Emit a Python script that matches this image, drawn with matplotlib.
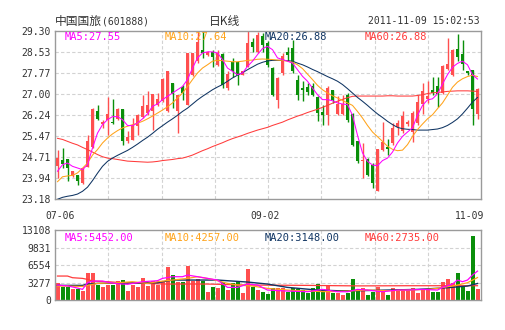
import matplotlib.pyplot as plt
import numpy as np

# ---- data (601888, daily, 2011-07-06 .. 2011-11-09) ----
opens = [24.37, 24.59, 24.64, 24.01, 24.07, 23.76, 24.33, 25.06, 26.37, 25.91,
         26.06, 25.98, 26.10, 26.45, 25.28, 25.33, 25.83, 26.15, 26.31, 26.40,
         26.59, 26.74, 26.37, 27.41, 26.37, 27.27, 26.62, 27.71, 28.20, 28.61,
         28.43, 28.55, 28.07, 28.46, 27.21, 28.18, 28.16, 27.70, 28.00, 28.90,
         28.55, 29.12, 28.86, 27.95, 26.80, 27.77, 28.52, 28.68, 27.53, 27.22,
         27.25, 27.28, 26.90, 26.35, 26.23, 27.16, 26.28, 26.28, 26.98, 26.28,
         25.28, 24.55, 24.64, 24.42, 23.48, 24.96, 25.06, 25.21, 25.80, 25.65,
         25.91, 25.63, 25.94, 26.64, 26.84, 27.16, 27.28, 27.04, 27.93, 27.71,
         28.66, 28.46, 27.83, 27.89, 26.28]
highs = [24.98, 25.04, 24.64, 24.21, 24.07, 24.36, 25.50, 26.49, 26.59, 26.07,
         26.88, 26.82, 26.49, 26.45, 25.65, 26.13, 26.28, 26.98, 27.10, 27.01,
         27.04, 27.59, 27.86, 27.41, 26.98, 27.32, 28.50, 28.50, 29.29, 29.30,
         28.58, 28.62, 28.62, 28.50, 27.83, 28.30, 28.20, 27.86, 29.30, 29.05,
         29.25, 29.23, 28.92, 28.00, 27.62, 28.50, 28.70, 28.98, 27.71, 27.47,
         27.41, 27.41, 26.92, 26.62, 27.28, 27.16, 26.92, 26.98, 27.04, 26.30,
         25.30, 25.22, 24.67, 24.48, 25.00, 25.98, 25.35, 25.95, 26.07, 26.37,
         26.05, 26.37, 26.98, 27.41, 27.47, 27.61, 27.61, 28.05, 29.05, 28.65,
         29.19, 28.98, 27.86, 27.89, 27.22]
lows = [23.95, 24.31, 23.82, 23.98, 23.68, 23.74, 24.33, 25.04, 26.07, 25.77,
        25.52, 25.91, 26.07, 25.16, 25.22, 25.32, 25.50, 26.13, 26.25, 25.71,
        26.56, 26.71, 26.35, 26.49, 25.58, 26.80, 26.60, 27.65, 28.13, 28.30,
        28.40, 27.98, 28.01, 27.22, 27.16, 27.64, 27.33, 27.68, 27.98, 28.55,
        28.50, 28.55, 28.00, 26.95, 26.49, 27.71, 28.20, 27.77, 26.80, 26.74,
        26.98, 26.92, 26.01, 25.89, 25.89, 26.68, 26.25, 26.25, 26.00, 25.10,
        24.50, 23.95, 24.01, 23.57, 23.46, 24.92, 24.77, 25.16, 25.50, 25.58,
        25.85, 25.27, 25.89, 26.28, 26.68, 26.98, 26.52, 27.00, 27.89, 27.65,
        28.20, 27.89, 27.71, 25.86, 26.10]
closes = [24.67, 24.45, 24.31, 24.19, 23.85, 24.31, 25.28, 26.47, 26.10, 25.98,
          26.28, 25.95, 26.46, 25.31, 25.44, 25.89, 26.25, 26.56, 26.59, 27.01,
          26.82, 27.55, 27.83, 27.01, 26.98, 27.03, 28.49, 28.49, 28.90, 28.49,
          28.55, 28.34, 28.50, 27.35, 27.73, 27.86, 27.70, 27.84, 28.85, 28.73,
          29.15, 28.79, 28.07, 26.98, 27.59, 28.38, 28.41, 27.83, 26.98, 27.16,
          27.08, 26.98, 26.31, 26.23, 27.22, 26.80, 26.64, 26.64, 26.07, 25.16,
          24.55, 24.61, 24.07, 23.77, 24.99, 25.27, 25.01, 25.76, 25.95, 26.20,
          26.00, 26.30, 26.72, 27.13, 26.92, 27.04, 27.01, 28.01, 28.10, 28.62,
          28.34, 28.10, 27.78, 26.47, 27.19]
volume = [3292, 2547, 2547, 2050, 2112, 1801, 5156, 5156, 2920, 2547,
          2858, 2858, 3603, 3789, 1739, 2858, 2423, 4224, 2609, 3603,
          2920, 3603, 6274, 4721, 3479, 3354, 6398, 3541, 4038, 3603,
          1615, 2547, 2361, 3479, 1988, 3168, 3603, 1429, 5777, 2547,
          1926, 1615, 1180, 2361, 2361, 2361, 1615, 2236, 2050, 1864,
          1429, 2298, 3044, 2050, 2858, 1305, 1429, 932, 1429, 3976,
          1739, 2236, 994, 1615, 2547, 1739, 994, 2361, 2050, 2050,
          2050, 2361, 1429, 2050, 2050, 1615, 1615, 3479, 3976, 3292,
          5156, 2423, 1739, 11990, 2112]

ma5 = [24.19, 24.43, 24.49, 24.37, 24.31, 24.25, 24.43, 25.04, 25.58, 25.89,
       26.07, 26.18, 26.18, 26.07, 25.86, 25.85, 25.95, 26.10, 26.28, 26.56,
       26.64, 26.80, 26.92, 27.04, 27.16, 27.28, 27.53, 27.95, 28.32, 28.50,
       28.54, 28.54, 28.50, 28.26, 27.95, 27.83, 27.71, 27.77, 28.01, 28.20,
       28.44, 28.66, 28.74, 28.62, 28.32, 28.26, 28.20, 28.13, 27.89, 27.65,
       27.47, 27.22, 26.98, 26.80, 26.80, 26.76, 26.68, 26.64, 26.62, 26.23,
       25.50, 24.86, 24.55, 24.42, 24.39, 24.58, 24.67, 24.89, 25.22, 25.46,
       25.62, 25.77, 26.23, 26.59, 26.79, 26.83, 27.01, 27.37, 27.71, 27.98,
       28.12, 28.20, 28.07, 27.71, 27.55]
ma10 = [23.81, 23.99, 24.02, 24.04, 24.13, 24.30, 24.49, 24.78, 24.98, 25.22,
        25.40, 25.55, 25.67, 25.77, 25.83, 25.89, 25.94, 26.01, 26.10, 26.20,
        26.31, 26.42, 26.54, 26.68, 26.86, 27.04, 27.28, 27.53, 27.77, 27.95,
        28.07, 28.20, 28.23, 28.22, 28.20, 28.18, 28.18, 28.20, 28.23, 28.24,
        28.27, 28.28, 28.27, 28.26, 28.24, 28.23, 28.20, 28.16, 28.07, 27.93,
        27.73, 27.53, 27.32, 27.16, 27.04, 26.94, 26.86, 26.77, 26.68, 26.59,
        26.37, 26.13, 25.86, 25.62, 25.45, 25.28, 25.10, 24.99, 24.94, 24.96,
        25.16, 25.46, 25.71, 25.91, 26.10, 26.25, 26.47, 26.68, 26.96, 27.25,
        27.44, 27.56, 27.64, 27.69, 27.64]
ma20 = [23.17, 23.24, 23.28, 23.31, 23.36, 23.46, 23.61, 23.85, 24.12, 24.37,
        24.55, 24.67, 24.77, 24.86, 24.95, 25.06, 25.18, 25.31, 25.43, 25.57,
        25.72, 25.85, 25.98, 26.10, 26.23, 26.37, 26.49, 26.64, 26.79, 26.92,
        27.04, 27.16, 27.26, 27.35, 27.47, 27.59, 27.69, 27.78, 27.89, 27.99,
        28.09, 28.16, 28.21, 28.23, 28.23, 28.23, 28.22, 28.20, 28.13, 28.07,
        27.99, 27.90, 27.82, 27.73, 27.64, 27.56, 27.47, 27.35, 27.20, 27.04,
        26.88, 26.74, 26.59, 26.43, 26.28, 26.15, 26.01, 25.89, 25.79, 25.74,
        25.72, 25.71, 25.69, 25.69, 25.69, 25.71, 25.73, 25.78, 25.86, 25.97,
        26.10, 26.28, 26.49, 26.71, 26.88]
ma60 = [25.39, 25.35, 25.28, 25.21, 25.15, 25.06, 24.98, 24.89, 24.80, 24.72,
        24.67, 24.65, 24.62, 24.59, 24.56, 24.55, 24.54, 24.53, 24.52, 24.53,
        24.55, 24.58, 24.60, 24.62, 24.65, 24.67, 24.72, 24.78, 24.86, 24.94,
        25.01, 25.09, 25.16, 25.23, 25.31, 25.38, 25.44, 25.50, 25.57, 25.63,
        25.69, 25.74, 25.79, 25.86, 25.92, 25.98, 26.06, 26.13, 26.20, 26.26,
        26.33, 26.39, 26.45, 26.52, 26.59, 26.67, 26.74, 26.81, 26.87, 26.92,
        26.93, 26.93, 26.93, 26.93, 26.93, 26.93, 26.94, 26.94, 26.93, 26.93,
        26.93, 26.93, 26.95, 26.98, 27.02, 27.05, 27.06, 27.08, 27.10, 27.11,
        27.12, 27.12, 27.12, 27.11, 27.10]

# volume moving averages, read at a few candles
vma5_idx = [0, 2, 4, 5, 6, 7, 9, 10, 12, 14, 16, 17, 19, 20, 21, 23, 25, 26, 28, 30,
            32, 34, 36, 38, 40, 42, 46, 50, 53, 56, 58, 60, 62, 65, 68, 70, 73, 76,
            77, 79, 80, 81, 82, 83, 84]
vma5 = [2858, 2700, 2300, 2050, 3292, 3603, 3603, 3400, 3100, 3000, 3300, 3479, 3600,
        3665, 4100, 4411, 4411, 4721, 4411, 4100, 3789, 2423, 2423, 3044, 2858, 1926,
        1739, 1615, 2050, 1615, 1615, 2050, 1926, 1615, 1926, 1926, 2050, 1926, 2423,
        3044, 3789, 3479, 3789, 4721, 5452]
vma10_idx = [0, 2, 5, 8, 12, 15, 18, 20, 23, 26, 28, 31, 34, 36, 39, 42, 46, 50, 54,
             58, 62, 66, 70, 74, 76, 78, 80, 82, 84]
vma10 = [2671, 2671, 2600, 3168, 3292, 3479, 3168, 3479, 3789, 4100, 4411, 3914, 3168,
         2858, 2671, 2236, 1926, 1739, 1615, 1739, 1926, 1801, 1926, 2050, 2236, 2547,
         2858, 3292, 4257]
vma20_idx = [0, 5, 6, 8, 20, 23, 32, 38, 42, 46, 52, 56, 60, 66, 72, 78, 82, 84]
vma20 = [2795, 2795, 3044, 3168, 3292, 3789, 3789, 3417, 3044, 2423, 1926, 1801, 1801,
         1926, 2050, 2361, 2671, 3148]
vma60_idx = [0, 2, 3, 5, 6, 7, 10, 13, 17, 22, 30, 38, 50, 60, 70, 80, 84]
vma60 = [4535, 4535, 4224, 4100, 3914, 3603, 3479, 3292, 3168, 3044, 3044, 2858, 2795,
         2700, 2733, 2733, 2735]

date_labels = ["07-06", "09-02", "11-09"]
date_pos = [0.5, 41.5, 82.5]
price_ticks = [23.18, 23.94, 24.71, 25.47, 26.24, 27.00, 27.77, 28.53, 29.30]
vol_ticks = [0, 3277, 6554, 9831, 13108]

RED = '#ff4f4f'
GREEN = '#0a8f0a'
C5, C10, C20, C60 = '#ff00ff', '#ffa31a', '#0f3462', '#ff3b3b'
GRID = '#d2d2d2'
TXT = '#333333'
MONO = 'DejaVu Sans Mono'

W, H = 505, 330
fig = plt.figure(figsize=(W / 100, H / 100), dpi=100)
ax = fig.add_axes([55 / W, 1 - 199 / H, 426 / W, 168 / H])
axv = fig.add_axes([55 / W, 1 - 300.4 / H, 426 / W, 70.4 / H])

n = len(closes)
x = np.arange(n)
up = np.array(closes) >= np.array(opens)
cols = [RED if u else GREEN for u in up]

xlo, xhi = -0.5, 84.7
for a in (ax, axv):
    a.set_xlim(xlo, xhi)
    for s in a.spines.values():
        s.set_color('#9a9a9a')
        s.set_linewidth(1.0)
    a.tick_params(length=0, labelsize=7, labelcolor=TXT, pad=3)
    a.set_xticks([])
    for k in range(1, 8):
        a.axvline(xlo + k * (xhi - xlo) / 8, color=GRID, lw=0.8, ls=(0, (3, 2)), zorder=0)

# price panel
ax.set_ylim(price_ticks[0], price_ticks[-1])
ax.set_yticks(price_ticks)
ax.set_yticklabels(['%.2f' % v for v in price_ticks], family=MONO)
for v in price_ticks[1:-1]:
    ax.axhline(v, color=GRID, lw=0.8, ls=(0, (3, 2)), zorder=0)

ax.vlines(x, lows, highs, colors=cols, lw=1.0, zorder=2)
body = [max(abs(c - o), 0.03) for o, c in zip(opens, closes)]
ax.bar(x, body, bottom=np.minimum(opens, closes), width=0.72, color=cols, lw=0, zorder=3)

ax.plot(x, ma60, color=C60, lw=0.75, zorder=4)
ax.plot(x, ma20, color=C20, lw=0.75, zorder=4)
ax.plot(x, ma10, color=C10, lw=0.75, zorder=4)
ax.plot(x, ma5, color=C5, lw=0.75, zorder=4)

# volume panel
axv.set_ylim(0, vol_ticks[-1])
axv.set_yticks(vol_ticks)
axv.set_yticklabels([str(v) for v in vol_ticks], family=MONO)
for v in vol_ticks[1:-1]:
    axv.axhline(v, color=GRID, lw=0.8, ls=(0, (3, 2)), zorder=0)
axv.bar(x, volume, width=0.8, color=cols, lw=0, zorder=2)
axv.plot(vma60_idx, vma60, color=C60, lw=0.9, zorder=3)
axv.plot(vma20_idx, vma20, color=C20, lw=1.0, zorder=3)
axv.plot(vma10_idx, vma10, color=C10, lw=0.9, zorder=3)
axv.plot(vma5_idx, vma5, color=C5, lw=0.9, zorder=3)

# legends inside panels
def legend_row(a, items, ytop):
    for k, (txt, c) in enumerate(items):
        a.text((10 + 100 * k) / 426, ytop, txt, transform=a.transAxes, color=c,
               fontsize=7.5, family=MONO, va='top', ha='left', zorder=6)

legend_row(ax, [('MA5:27.55', C5), ('MA10:27.64', C10), ('MA20:26.88', C20),
                ('MA60:26.88', C60)], 1 - 1 / 168)
legend_row(axv, [('MA5:5452.00', C5), ('MA10:4257.00', C10), ('MA20:3148.00', C20),
                 ('MA60:2735.00', C60)], 1 - 3 / 70.4)

# date labels between panels
for p, lab in zip(date_pos, date_labels):
    fig.text((57.5 + 5 * p) / W, 1 - 216 / H, lab, ha='center', va='center',
             fontsize=7, family=MONO, color=TXT)

# header
fig.text(55 / W, 1 - 21 / H, '中国国旅', fontsize=8.5, color=TXT, va='center', ha='left',
         family=['Noto Sans CJK SC', 'DejaVu Sans'])
fig.text(102 / W, 1 - 21 / H, '(601888)', fontsize=7, color=TXT, va='center', ha='left',
         family=MONO)
fig.text(225 / W, 1 - 21 / H, '日K线', fontsize=8.5, color=TXT, va='center', ha='center',
         family=['Noto Sans CJK SC', 'DejaVu Sans'])
fig.text(480 / W, 1 - 21 / H, '2011-11-09 15:02:53', fontsize=7, color=TXT, va='center',
         ha='right', family=MONO)

fig.savefig('out.png', dpi=100, facecolor='white')
